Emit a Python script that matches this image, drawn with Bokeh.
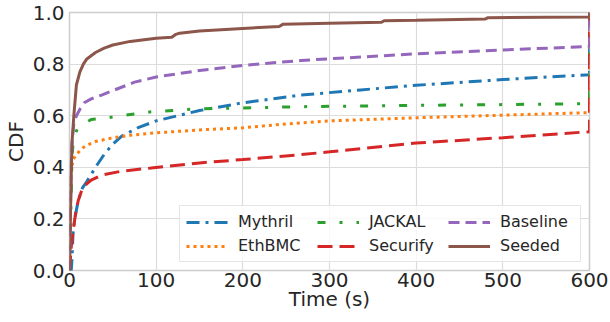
from bokeh.plotting import figure
from bokeh.models import Range1d, Legend, LegendItem, FixedTicker, CustomJSTickFormatter
from bokeh.embed import file_html
from bokeh.resources import INLINE

# ---- data ----
mythril_t = [0, 2, 3, 4, 6, 10, 15, 20, 30, 40, 50, 60, 80, 100, 150, 200, 267, 336, 400, 500, 600, 600]
mythril_c = [0, 0.0, 0.05, 0.14, 0.2, 0.27, 0.32, 0.345, 0.40, 0.45, 0.49, 0.52, 0.555, 0.58, 0.62, 0.65, 0.68, 0.70, 0.718, 0.74, 0.759, 1.0]

ethbmc_t = [0, 1, 2, 4, 8, 15, 21, 30, 48, 70, 94, 150, 200, 250, 300, 400, 500, 600, 600]
ethbmc_c = [0, 0.25, 0.38, 0.43, 0.45, 0.475, 0.487, 0.50, 0.513, 0.524, 0.532, 0.545, 0.553, 0.568, 0.58, 0.592, 0.602, 0.612, 1.0]

jackal_t = [0, 1, 2, 3, 5, 10, 15, 25, 40, 60, 94, 150, 200, 267, 400, 500, 600, 600]
jackal_c = [0, 0.15, 0.3, 0.45, 0.52, 0.555, 0.565, 0.585, 0.59, 0.60, 0.615, 0.627, 0.63, 0.635, 0.64, 0.643, 0.647, 1.0]

securify_t = [0, 2, 4, 7, 10, 14, 18, 25, 37, 60, 94, 150, 200, 267, 300, 400, 500, 600, 600]
securify_c = [0, 0.09, 0.15, 0.22, 0.27, 0.31, 0.33, 0.35, 0.37, 0.385, 0.397, 0.417, 0.43, 0.449, 0.46, 0.494, 0.515, 0.538, 1.0]

baseline_t = [0, 1, 2, 3, 5, 8, 12, 17, 25, 37, 75, 100, 150, 200, 267, 400, 500, 600, 600]
baseline_c = [0, 0.2, 0.4, 0.5, 0.57, 0.60, 0.625, 0.65, 0.665, 0.68, 0.73, 0.75, 0.775, 0.795, 0.814, 0.84, 0.855, 0.868, 1.0]

seeded_t = [0, 1, 2, 3, 5, 8, 12, 16, 20, 30, 40, 50, 70, 100, 118, 122, 127, 150, 200, 242, 246, 300, 360, 363, 400, 480, 483, 550, 600, 600]
seeded_c = [0, 0.2, 0.38, 0.5, 0.6, 0.72, 0.77, 0.80, 0.82, 0.845, 0.862, 0.874, 0.888, 0.90, 0.904, 0.914, 0.92, 0.928, 0.938, 0.946, 0.954, 0.958, 0.962, 0.968, 0.97, 0.975, 0.98, 0.982, 0.983, 1.0]

x_ticks = [0, 100, 200, 300, 400, 500, 600]
y_ticks = [0.0, 0.2, 0.4, 0.6, 0.8, 1.0]

series = [
    ("Mythril", mythril_t, mythril_c, "#1f77b4", "13 6 3 6"),
    ("EthBMC", ethbmc_t, ethbmc_c, "#ff7f0e", "3 4"),
    ("JACKAL", jackal_t, jackal_c, "#2ca02c", "8 14 3 14"),
    ("Securify", securify_t, securify_c, "#d62728", "15 7"),
    ("Baseline", baseline_t, baseline_c, "#9467bd", "11 6"),
    ("Seeded", seeded_t, seeded_c, "#8c564b", "solid"),
]

TXT = "#262626"
FONT = "DejaVu Sans"

p = figure(width=610, height=322, output_backend="svg", toolbar_location=None,
           x_range=Range1d(0, 600), y_range=Range1d(0, 1.0),
           min_border_left=68, min_border_right=21, min_border_top=12, min_border_bottom=52)

p.outline_line_color = "#cccccc"
p.outline_line_width = 1.5
p.background_fill_color = "white"
p.border_fill_color = "white"

for ax in (p.xaxis[0], p.yaxis[0]):
    ax.axis_line_color = None
    ax.major_tick_line_color = None
    ax.minor_tick_line_color = None
    ax.major_tick_out = 0
    ax.major_tick_in = 0
    ax.minor_tick_out = 0
    ax.minor_tick_in = 0
    ax.major_label_text_font = FONT
    ax.major_label_text_font_size = "20px"
    ax.major_label_text_color = TXT
    ax.axis_label_text_font = FONT
    ax.axis_label_text_font_size = "20px"
    ax.axis_label_text_font_style = "normal"
    ax.axis_label_text_color = TXT

p.xaxis.ticker = FixedTicker(ticks=x_ticks)
p.yaxis.ticker = FixedTicker(ticks=y_ticks)
p.yaxis.formatter = CustomJSTickFormatter(code="return tick.toFixed(1);")
p.xaxis.axis_label = "Time (s)"
p.yaxis.axis_label = "CDF"
p.xaxis.major_label_standoff = 2
p.yaxis.major_label_standoff = 5
p.xaxis.axis_label_standoff = -3
p.yaxis.axis_label_standoff = 2

p.grid.grid_line_color = "#dcdcdc"
p.grid.grid_line_width = 1.2

items = []
for name, t, c, col, dash in series:
    r = p.line(t, c, line_color=col, line_width=3, line_dash=dash)
    items.append(LegendItem(label=name, renderers=[r]))

legend = Legend(items=items, location="bottom_right", orientation="vertical", nrows=2)
legend.label_text_font = FONT
legend.label_text_font_size = "16px"
legend.label_text_color = TXT
legend.glyph_width = 42
legend.glyph_height = 16
legend.label_standoff = 10
legend.label_width = 74
legend.spacing = 5
legend.padding = 6
legend.margin = 8
legend.border_line_color = "#cccccc"
legend.border_line_width = 1
legend.background_fill_alpha = 0.8
p.add_layout(legend)

open("out.html", "w").write(file_html(p, INLINE))
